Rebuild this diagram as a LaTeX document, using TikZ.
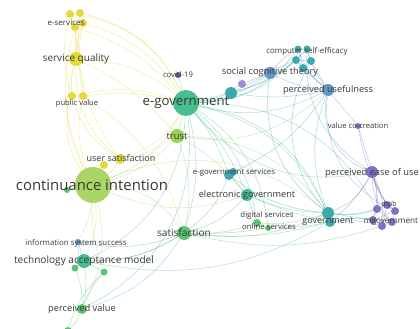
\documentclass[tikz,border=0pt]{standalone}
\usepackage{fontspec}
\setmainfont{Open Sans}
\usetikzlibrary{backgrounds}
\definecolor{cyel}{HTML}{E2D52B}
\definecolor{clg}{HTML}{A2D258}
\definecolor{ctr}{HTML}{92CC48}
\definecolor{cgr}{HTML}{4CBF64}
\definecolor{ctg}{HTML}{38B886}
\definecolor{cteal}{HTML}{2EA2A6}
\definecolor{cblue}{HTML}{5A8CC0}
\definecolor{cpur}{HTML}{7466C0}
\definecolor{cdpur}{HTML}{5A4FA6}
\begin{document}
\begin{tikzpicture}[x=1pt,y=-1pt,
  dot/.style={circle,inner sep=0pt,fill=#1,fill opacity=0.92,draw=none},
  lab/.style={inner sep=0pt,text=black!78,font=\fontsize{#1}{#1}\selectfont},
  edge/.style={draw=#1,line width=0.55pt,draw opacity=0.4},
]
\useasboundingbox (0,0) rectangle (420,329);
\clip (0,0) rectangle (420,329);
% nodes
\node[dot=cyel,minimum size=8pt] (es1) at (70,14) {};
\node[dot=cyel,minimum size=8pt] (es2) at (80,13) {};
\node[dot=cyel,minimum size=8pt] (es3) at (75,27) {};
\node[dot=cyel,minimum size=8pt] (es4) at (83,23) {};
\node[dot=cyel,minimum size=14pt] (sq) at (76,59) {};
\node[dot=cyel,minimum size=8pt] (pv1) at (72,96) {};
\node[dot=cyel,minimum size=8pt] (pv2) at (83,96) {};
\node[dot=cdpur,minimum size=6pt] (covid) at (178,75) {};
\node[dot=ctg,minimum size=26pt] (egov) at (186,103) {};
\node[dot=ctr,minimum size=14pt] (trust) at (177,136) {};
\node[dot=cyel,minimum size=10pt] (us) at (120,159) {};
\node[dot=cyel,minimum size=8pt] (us2) at (104,165) {};
\node[dot=clg,minimum size=36pt] (ci) at (93,185) {};
\node[dot=cgr,minimum size=6pt] (sm1) at (67,190) {};
\node[dot=cblue,minimum size=6pt] (iss) at (78,242) {};
\node[dot=ctg,minimum size=14pt] (tam) at (84,261) {};
\node[dot=cgr,minimum size=7pt] (sm2) at (75,268) {};
\node[dot=cgr,minimum size=7pt] (sm3) at (104,272) {};
\node[dot=cgr,minimum size=10pt] (pval) at (82,309) {};
\node[dot=cgr,minimum size=8pt] (bot) at (68,331) {};
\node[dot=cgr,minimum size=14pt] (sat) at (184,233) {};
\node[dot=cteal,minimum size=10pt] (egs1) at (229,175) {};
\node[dot=cteal,minimum size=8pt] (egs2) at (233,172) {};
\node[dot=ctg,minimum size=12pt] (elg) at (247,195) {};
\node[dot=cgr,minimum size=8pt] (ds) at (257,223) {};
\node[dot=cgr,minimum size=6pt] (os) at (268,228) {};
\node[dot=cteal,minimum size=12pt] (gov1) at (328,213) {};
\node[dot=cteal,minimum size=10pt] (gov2) at (330,222) {};
\node[dot=cpur,minimum size=12pt] (peou) at (372,172) {};
\node[dot=cpur,minimum size=8pt] (dt1) at (377,209) {};
\node[dot=cpur,minimum size=8pt] (dt2) at (387,205) {};
\node[dot=cpur,minimum size=8pt] (dt3) at (395,211) {};
\node[dot=cpur,minimum size=8pt] (dt4) at (392,222) {};
\node[dot=cpur,minimum size=8pt] (dt5) at (382,226) {};
\node[dot=cpur,minimum size=8pt] (dt6) at (373,220) {};
\node[dot=cteal,minimum size=7pt] (cse1) at (298,49) {};
\node[dot=cteal,minimum size=7pt] (cse2) at (307,49) {};
\node[dot=cteal,minimum size=8pt] (cse3) at (296,60) {};
\node[dot=cteal,minimum size=8pt] (cse4) at (311,61) {};
\node[dot=cteal,minimum size=8pt] (cse5) at (303,68) {};
\node[dot=cblue,minimum size=12pt] (sct) at (270,73) {};
\node[dot=cpur!80!white,minimum size=8pt] (pur) at (242,84) {};
\node[dot=cteal,minimum size=12pt] (t1) at (231,93) {};
\node[dot=cblue,minimum size=12pt] (pu) at (328,90) {};
\node[dot=cpur,minimum size=6pt] (vcc) at (358,126) {};
% edges
\begin{pgfonlayer}{background}
\clip (0,0) rectangle (420,329);
\foreach \a/\b/\c/\k in {
 es1/sq/cyel/10, es2/sq/cyel/-10, es3/sq/cyel/5, es4/sq/cyel/-5,
 es1/es2/cyel/0, es3/es4/cyel/0, es1/es3/cyel/0, es2/es4/cyel/0,
 es1/egov/cyel/28, es2/egov/cyel/25, es4/egov/cyel/20, es3/egov/cyel/15,
 es3/ci/cyel/-20, es1/pv1/cyel/-15, es2/us/cyel/-20, es4/pv2/cyel/-10,
 sq/pv1/cyel/-10, sq/pv2/cyel/10, sq/us/cyel/-25, sq/ci/cyel/-22,
 sq/egov/cyel/18, sq/trust/cyel/12,
 pv1/egov/cyel/15, pv2/egov/cyel/10, pv1/us/cyel/-20, pv2/ci/cyel/-15, pv2/sat/cyel/20, pv1/ci/cyel/-25,
 ci/us/clg/-10, ci/trust/clg/-15, ci/egov/clg/-20, ci/tam/clg/15, ci/iss/clg/10,
 ci/pval/clg/20, ci/sat/clg/25, ci/gov1/clg/30, ci/elg/clg/-20, ci/sm1/clg/0, ci/sm3/clg/-10,
 us/egov/cyel/-20, us2/ci/cyel/0, us/trust/cyel/-10,
 trust/egov/ctr/0, trust/sat/ctr/15, trust/gov1/ctr/25, trust/pu/ctr/-25, trust/elg/ctr/10,
 egov/sat/ctg/15, egov/elg/ctg/10, egov/gov1/ctg/25, egov/gov2/ctg/30, egov/pu/ctg/-20,
 egov/sct/ctg/-15, egov/cse3/ctg/-20, egov/cse1/ctg/-25, egov/covid/ctg/0, egov/t1/ctg/-5,
 egov/egs1/ctg/10, egov/ds/ctg/20, egov/peou/ctg/-30, egov/tam/ctg/30, egov/pval/ctg/35,
 egov/os/ctg/25, egov/dt1/ctg/30, egov/pur/ctg/-10,
 sat/elg/cgr/-15, sat/gov1/cgr/-15, sat/gov2/cgr/-10, sat/ds/cgr/-10, sat/os/cgr/-5,
 sat/tam/cgr/15, sat/pval/cgr/20, sat/egs1/cgr/-15, sat/dt5/cgr/-15,
 tam/pval/ctg/10, tam/iss/ctg/0, tam/sm2/ctg/0, tam/sm3/ctg/0, tam/sat/ctg/-15,
 tam/gov2/ctg/-20, sm2/pval/cgr/10, sm3/pval/cgr/-10, pval/bot/cgr/10, sm3/bot/cgr/-15,
 iss/sat/cblue/-15, iss/sm2/cblue/10,
 elg/gov1/ctg/-10, elg/ds/ctg/0, egs1/gov1/cteal/-15, egs1/elg/cteal/0, egs2/pu/cteal/-15,
 ds/gov1/cgr/-10, os/gov2/cgr/-5, ds/os/cgr/0, elg/gov2/ctg/-5,
 gov1/peou/cteal/-20, gov1/dt1/cteal/-10, gov2/dt5/cteal/10, gov1/dt2/cteal/-15,
 gov2/dt4/cteal/10, gov1/dt6/cteal/0, gov1/pu/cteal/20, gov1/sct/cteal/30,
 pu/cse1/cblue/15, pu/cse2/cblue/10, pu/cse3/cblue/5, pu/cse4/cblue/0, pu/cse5/cblue/0,
 pu/sct/cblue/10, pu/vcc/cblue/0, pu/peou/cblue/-40, pu/t1/cblue/10, pu/dt3/cblue/-35,
 vcc/peou/cpur/0, vcc/dt2/cpur/-10,
 peou/dt1/cpur/10, peou/dt2/cpur/-5, peou/dt3/cpur/-15, peou/dt4/cpur/-20,
 peou/dt5/cpur/15, peou/dt6/cpur/15, peou/gov2/cpur/10,
 dt1/dt2/cpur/0, dt2/dt3/cpur/0, dt3/dt4/cpur/0, dt4/dt5/cpur/0, dt5/dt6/cpur/0, dt6/dt1/cpur/0,
 dt1/dt4/cpur/0, dt2/dt5/cpur/0, dt3/dt6/cpur/0,
 cse1/cse2/cteal/0, cse1/cse3/cteal/0, cse2/cse4/cteal/0, cse3/cse5/cteal/0, cse4/cse5/cteal/0,
 cse1/cse5/cteal/0, cse2/cse3/cteal/0, cse3/cse4/cteal/0,
 sct/cse1/cblue/10, sct/cse3/cblue/5, sct/t1/cblue/0, sct/pur/cblue/0, t1/cse3/cteal/-10,
 t1/cse2/cteal/-15, cse4/gov1/cteal/-35, cse2/peou/cteal/-30
}{
 \draw[edge=\c] (\a) to[bend left=\k] (\b);
}
\end{pgfonlayer}
% labels
\node[lab=8] (l-es) at (66,23) {e-services};
\node[lab=10] (l-sq) at (76,59) {service quality};
\node[lab=7.6] (l-pv) at (77,104) {public value};
\node[lab=7.7] (l-covid) at (178,75) {covid-19};
\node[lab=13.2] (l-egov) at (186,103) {e-government};
\node[lab=9.4] (l-trust) at (177,136) {trust};
\node[lab=9] (l-us) at (121,158) {user satisfaction};
\node[lab=14.9] (l-ci) at (92,185) {continuance intention};
\node[lab=7.85] (l-iss) at (76,243) {information system success};
\node[lab=10.1] (l-tam) at (84,261) {technology acceptance model};
\node[lab=9.3] (l-pval) at (82,309) {perceived value};
\node[lab=10.1] (l-sat) at (184,233) {satisfaction};
\node[lab=7.8] (l-egs) at (234,173) {e-government services};
\node[lab=9.2] (l-elg) at (247,195) {electronic government};
\node[lab=7.8] (l-ds) at (267,215) {digital services};
\node[lab=7.8] (l-os) at (269,227) {online services};
\node[lab=9] (l-gov) at (328,222) {government};
\node[lab=9.3] (l-peou) at (372,173) {perceived ease of use};
\node[lab=7] (l-dt) at (389,205) {dtpb};
\node[lab=8.2] (l-mg) at (391,222) {mgovernment};
\node[lab=7.9] (l-cse) at (307,51) {computer self-efficacy};
\node[lab=9.3] (l-sct) at (270,72) {social cognitive theory};
\node[lab=9.2] (l-pu) at (328,90) {perceived usefulness};
\node[lab=7.6] (l-vcc) at (358,126) {value co-creation};
\end{tikzpicture}
\end{document}
